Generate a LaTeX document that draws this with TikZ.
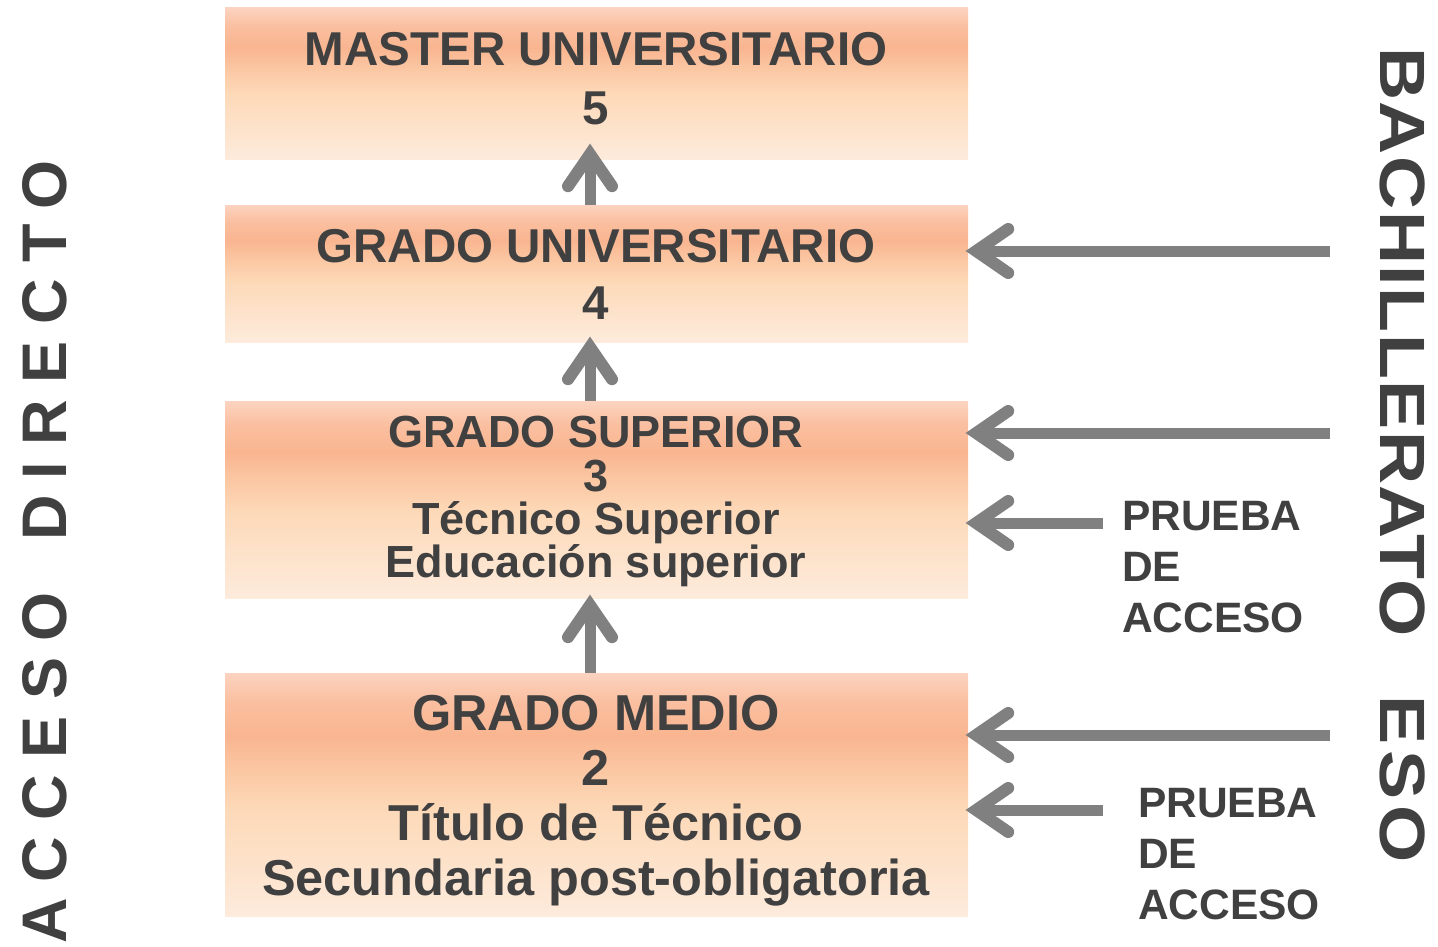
\documentclass[tikz,border=0pt]{standalone}
\usepackage{fontspec}
\setmainfont{Liberation Sans}
\usetikzlibrary{calc}
\definecolor{txt}{HTML}{404040}
\definecolor{arr}{HTML}{808080}
\definecolor{oA}{HTML}{FDEBDC}
\definecolor{oB}{HTML}{FDD9B8}
\definecolor{oC}{HTML}{FBC7A3}
\definecolor{oD}{HTML}{F9B590}
\definecolor{oE}{HTML}{FABFA0}
\definecolor{oF}{HTML}{FCD3C0}
\pgfdeclareverticalshading{boxshade}{100bp}{color(0bp)=(oA); color(25bp)=(oA); color(47bp)=(oB); color(55bp)=(oC); color(62bp)=(oD); color(69bp)=(oE); color(75bp)=(oF); color(100bp)=(oF)}
\tikzset{
  box/.style={rectangle, shade, shading=boxshade, draw=none, inner sep=0pt, minimum width=743pt},
  lbl/.style={text=txt, inner sep=0pt, anchor=base},
  shaft/.style={draw=arr, line width=11pt},
  head/.style={draw=arr, line width=12pt, line cap=round, line join=miter},
}
\begin{document}
\begin{tikzpicture}[x=1pt,y=-1pt]
\useasboundingbox (0,0) rectangle (1438,947);
% boxes
\node[box, minimum height=152pt] (b5) at (596.5,84) {};
\node[box, minimum height=137pt] (b4) at (596.5,273.5) {};
\node[box, minimum height=197pt] (b3) at (596.5,499.5) {};
\node[box, minimum height=243pt] (b2) at (596.5,794.5) {};
% box texts
\begin{scope}[every node/.append style={lbl, font=\fontsize{47.5}{56}\selectfont\bfseries}]
\node (t5a) at (596,66) {MASTER UNIVERSITARIO};
\node (t5b) at (596,125) {5};
\node (t4a) at (596,262) {GRADO UNIVERSITARIO};
\node (t4b) at (596,319) {4};
\end{scope}
\begin{scope}[every node/.append style={lbl, font=\fontsize{45}{54}\selectfont\bfseries}]
\node (t3a) at (596,447) {GRADO SUPERIOR};
\node (t3b) at (596,491) {3};
\node (t3c) at (596,534) {Técnico Superior};
\node (t3d) at (596,577) {Educación superior};
\end{scope}
\begin{scope}[every node/.append style={lbl, font=\fontsize{50.5}{60}\selectfont\bfseries}]
\node (t2a) at (596,730) {GRADO MEDIO};
\node (t2b) at (596,785) {2};
\node (t2c) at (596,840) {Título de Técnico};
\node (t2d) at (596,895) {Secundaria post-obligatoria};
\end{scope}
% prueba de acceso
\begin{scope}[every node/.append style={text=txt, inner sep=0pt, anchor=base west, font=\fontsize{42.5}{50}\selectfont\bfseries}]
\node (p1a) at (1122,530) {PRUEBA};
\node (p1b) at (1122,581) {DE};
\node (p1c) at (1122,632) {ACCESO};
\node (p2a) at (1138,817) {PRUEBA};
\node (p2b) at (1138,868) {DE};
\node (p2c) at (1138,919) {ACCESO};
\end{scope}
% vertical texts
\node[text=txt, inner sep=0pt, anchor=base west, rotate=90, font=\fontsize{63}{70}\selectfont\bfseries\addfontfeatures{LetterSpace=26}] (acc) at (66,944) {ACCESO};
\node[text=txt, inner sep=0pt, anchor=base west, rotate=90, font=\fontsize{63}{70}\selectfont\bfseries\addfontfeatures{LetterSpace=26}] (dir) at (66,541) {DIRECTO};
\node[text=txt, inner sep=0pt, anchor=base west, rotate=-90, xscale=1.15, font=\fontsize{64}{70}\selectfont\bfseries\addfontfeatures{LetterSpace=2}] (bach) at (1380,47) {BACHILLERATO};
\node[text=txt, inner sep=0pt, anchor=base west, rotate=-90, xscale=1.15, font=\fontsize{64}{70}\selectfont\bfseries\addfontfeatures{LetterSpace=8}] (eso) at (1380,695) {ESO};
% vertical arrows
\coordinate (u1) at ($(b5.south)+(-6.5,-20)$);
\draw[shaft] ($(b4.north)+(-6.5,0)$) -- ($(u1)+(0,20)$);
\draw[head] ($(u1)+(-22,46)$) -- ($(u1)+(0,14)$) -- ($(u1)+(22,46)$);
\coordinate (u2) at ($(b4.south)+(-6.5,-9)$);
\draw[shaft] ($(b3.north)+(-6.5,0)$) -- ($(u2)+(0,20)$);
\draw[head] ($(u2)+(-22,46)$) -- ($(u2)+(0,14)$) -- ($(u2)+(22,46)$);
\coordinate (u3) at ($(b3.south)+(-6.5,-7)$);
\draw[shaft] ($(b2.north)+(-6.5,0)$) -- ($(u3)+(0,20)$);
\draw[head] ($(u3)+(-22,46)$) -- ($(u3)+(0,14)$) -- ($(u3)+(22,46)$);
% horizontal arrows
\coordinate (s1) at (1330,251);
\coordinate (s2) at (1330,433);
\coordinate (s3) at (1103,523);
\coordinate (s4) at (1330,735);
\coordinate (s5) at (1103,810);
\foreach \s/\b in {s1/b4, s2/b3, s3/b3, s4/b2, s5/b2}{
  \coordinate (h) at (\b.east |- \s);
  \draw[shaft] (\s) -- ($(h)+(16,0)$);
  \draw[head] ($(h)+(40,-22)$) -- ($(h)+(8,0)$) -- ($(h)+(40,22)$);
}
\end{tikzpicture}
\end{document}
